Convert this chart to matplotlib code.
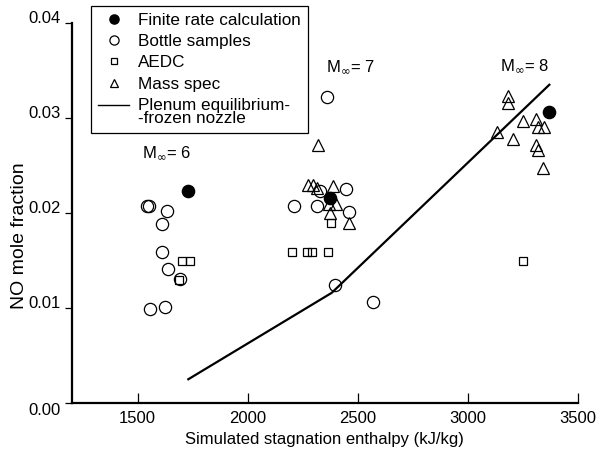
"""NO mole fraction against simulated stagnation enthalpy for the three
Mach-number conditions, with the plenum equilibrium / frozen-nozzle curve."""
import matplotlib
matplotlib.use("Agg")
import matplotlib.pyplot as plt
from matplotlib.legend_handler import HandlerLine2D
from matplotlib.lines import Line2D

plt.rcParams["font.family"] = ["Liberation Sans", "DejaVu Sans"]

# finite rate calculation (filled circles)
FINITE_H = [1731, 2375, 3370]
FINITE_NO = [0.0223, 0.0216, 0.0306]

# bottle samples (open circles)
BOTTLE_H = [1542, 1552, 1633, 1610, 1610, 1637, 1693, 1557, 1625,
            2360, 2330, 2448, 2211, 2315, 2461, 2398, 2572]
BOTTLE_NO = [0.0207, 0.0207, 0.0202, 0.0188, 0.0159, 0.0141, 0.0131, 0.0099,
             0.0101, 0.0322, 0.0223, 0.0225, 0.0207, 0.0207, 0.0201, 0.0124,
             0.0106]

# AEDC (open squares)
AEDC_H = [1701, 1739, 1689, 2380, 2201, 2272, 2295, 2365, 3251]
AEDC_NO = [0.0150, 0.0150, 0.0130, 0.0190, 0.0159, 0.0159, 0.0159, 0.0159,
           0.0150]

# mass spectrometer (open triangles)
MASS_H = [2319, 2276, 2296, 2316, 2390, 2372, 2401, 2375, 2461,
          3183, 3183, 3251, 3310, 3322, 3348, 3135, 3205, 3310, 3322, 3344]
MASS_NO = [0.0272, 0.0230, 0.0230, 0.0226, 0.0228, 0.0210, 0.0210, 0.0200,
           0.0189, 0.0323, 0.0316, 0.0297, 0.0299, 0.0291, 0.0291, 0.0285,
           0.0278, 0.0272, 0.0266, 0.0247]

# plenum equilibrium - frozen nozzle
PLENUM_H = [1731, 2383, 3372]
PLENUM_NO = [0.0025, 0.0116, 0.0335]

MACH_LABELS = ["M$_{\\infty}$= 6", "M$_{\\infty}$= 7", "M$_{\\infty}$= 8"]
MACH_H = [1630, 2466, 3257]
MACH_NO = [0.0263, 0.0354, 0.0355]

X_TICKS = [1500, 2000, 2500, 3000, 3500]
Y_TICKS = [0.00, 0.01, 0.02, 0.03, 0.04]

W, H = 602, 449


class FirstLineHandler(HandlerLine2D):
    """Line handle lifted to sit beside the first line of a two-line label."""

    def create_artists(self, legend, orig_handle, xdescent, ydescent, width,
                       height, fontsize, trans):
        artists = super().create_artists(legend, orig_handle, xdescent,
                                         ydescent, width, height, fontsize,
                                         trans)
        for a in artists:
            a.set_ydata([y + 0.42 * fontsize for y in a.get_ydata()])
        return artists


def main():
    fig = plt.figure(figsize=(W / 100, H / 100), dpi=100)
    ax = fig.add_axes([71.5 / W, 46 / H, 506 / W, 380 / H])

    hollow = dict(ls="none", mfc="none", mec="black", mew=0.9)
    ax.plot(PLENUM_H, PLENUM_NO, color="black", lw=1.6, zorder=2)
    ax.plot(BOTTLE_H, BOTTLE_NO, marker="o", ms=8.8, **hollow, zorder=3)
    ax.plot(AEDC_H, AEDC_NO, marker="s", ms=6.0, **hollow, zorder=3)
    ax.plot(MASS_H, MASS_NO, marker="^", ms=8.4, **hollow, zorder=3)
    ax.plot(FINITE_H, FINITE_NO, marker="o", ms=8.8, ls="none",
            color="black", zorder=4)

    for lab, x, y in zip(MACH_LABELS, MACH_H, MACH_NO):
        ax.text(x, y, lab, ha="center", va="center", fontsize=12)

    ax.set_xlim(1200, 3500)
    ax.set_ylim(0, 0.04)
    ax.set_xticks(X_TICKS)
    ax.set_yticks(Y_TICKS)
    ax.set_yticklabels([f"{v:.2f}" for v in Y_TICKS])
    for s in ("top", "right"):
        ax.spines[s].set_visible(False)
    for s in ("left", "bottom"):
        ax.spines[s].set_linewidth(1.6)
    ax.tick_params(axis="x", direction="in", length=7, width=0.9,
                   labelsize=12, pad=6)
    ax.tick_params(axis="y", direction="out", length=5, width=0.9,
                   labelsize=12, pad=3)
    ylabels = ax.get_yticklabels()
    for t in ylabels:
        t.set_va("baseline")
    ylabels[0].set_va("top")
    ylabels[0].set_y(-0.0006)

    ax.set_xlabel("Simulated stagnation enthalpy (kJ/kg)", fontsize=12,
                  labelpad=4)
    ax.set_ylabel("NO mole fraction", fontsize=14)
    ax.yaxis.set_label_coords(-0.085, 0.44)

    plenum_handle = Line2D([], [], color="black", lw=1.0)
    handles = [
        Line2D([], [], marker="o", ls="none", color="black", ms=8.8),
        Line2D([], [], marker="o", ms=8.8, **hollow),
        Line2D([], [], marker="s", ms=6.0, **hollow),
        Line2D([], [], marker="^", ms=8.4, **hollow),
        plenum_handle,
    ]
    labels = ["Finite rate calculation", "Bottle samples", "AEDC",
              "Mass spec", "Plenum equilibrium-\n-frozen nozzle"]
    leg = ax.legend(handles, labels, loc="upper left",
                    bbox_to_anchor=(90.7 / W, 1 - 6 / H),
                    bbox_transform=fig.transFigure, borderaxespad=0,
                    fancybox=False, framealpha=1, edgecolor="black",
                    fontsize=12.3, borderpad=0.42, labelspacing=0.36,
                    handlelength=1.85, handletextpad=0.5, markerscale=0.75,
                    handler_map={plenum_handle: FirstLineHandler()})
    leg.get_frame().set_linewidth(0.9)
    for t in leg.get_texts():
        t.set_linespacing(0.87)

    fig.savefig("out.png", dpi=100)


if __name__ == "__main__":
    main()
